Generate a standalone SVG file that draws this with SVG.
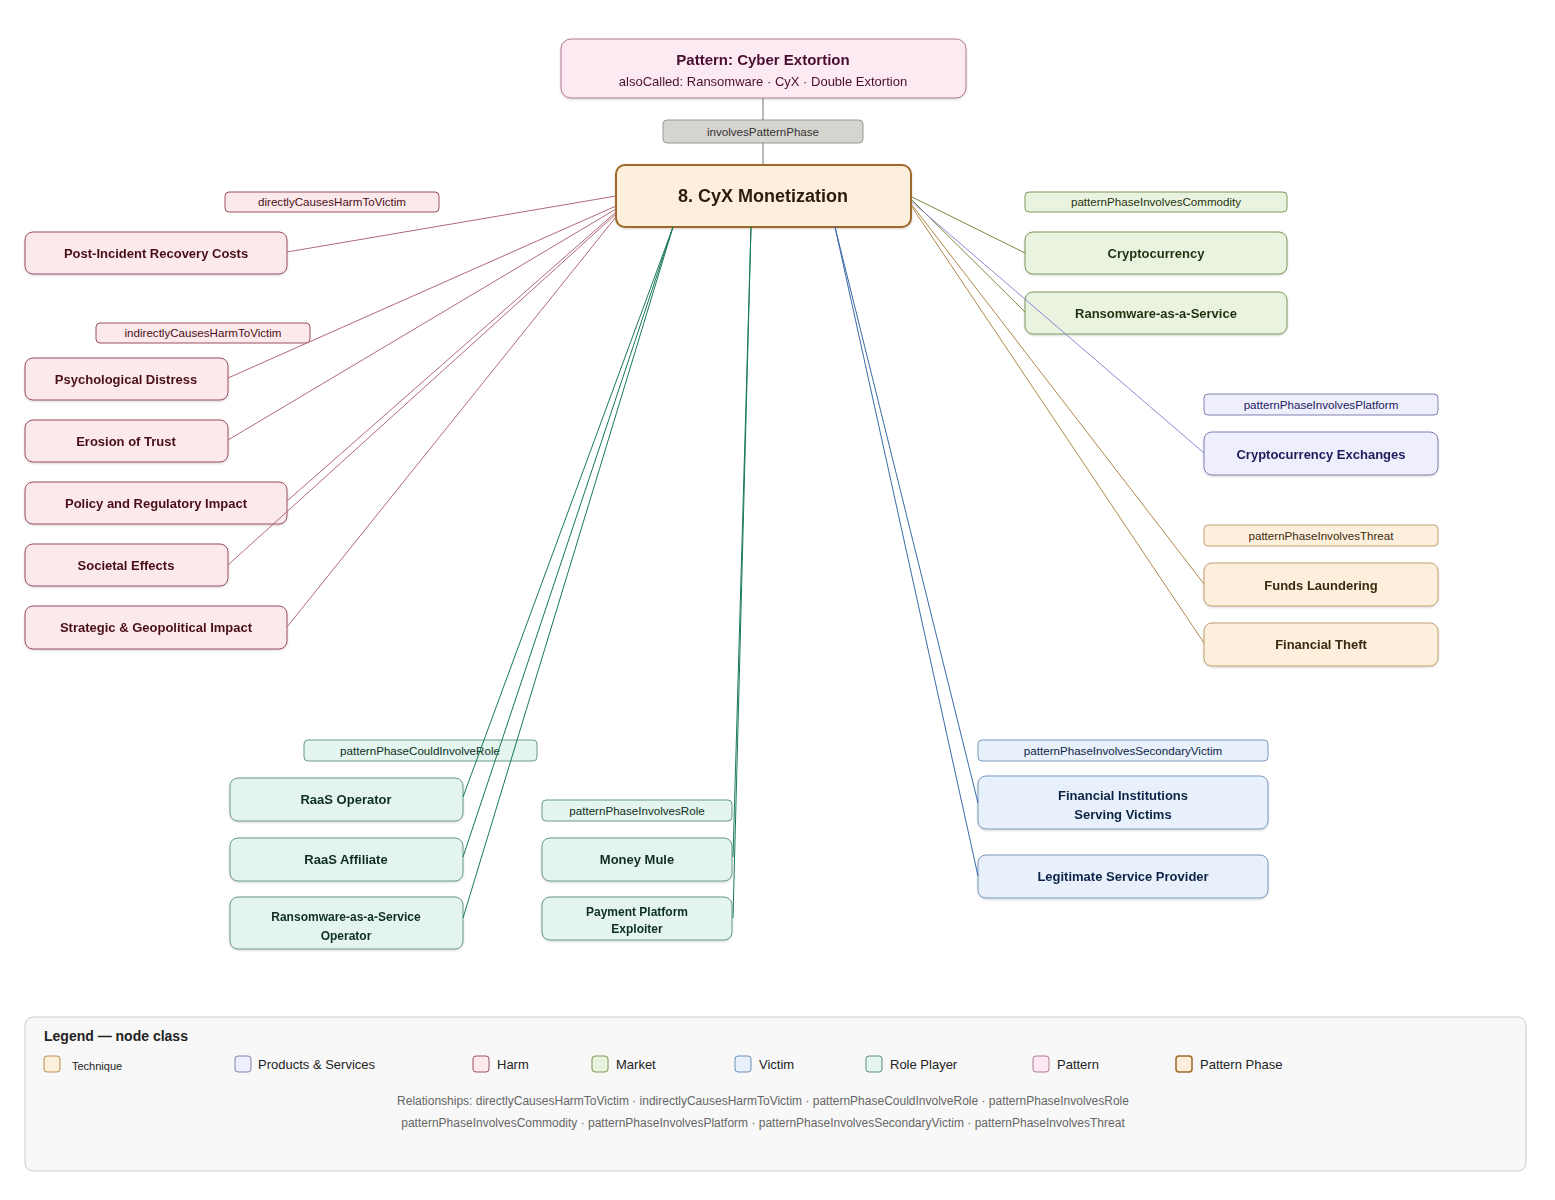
<svg xmlns="http://www.w3.org/2000/svg" width="1555" height="1200" viewBox="0 0 1555 1200">
<defs>
<filter id="sh" x="-5%" y="-10%" width="110%" height="130%"><feDropShadow dx="0" dy="1" stdDeviation="1" flood-color="#000" flood-opacity="0.18"/></filter>
<style>
text{font-family:"Liberation Sans",Arial,sans-serif;text-anchor:middle}
.n{filter:url(#sh)}
.t{font-size:13px;font-weight:bold}
.l{font-size:11.6px}
.harm rect{fill:#fce9eb;stroke:#9a5060}.harm text{fill:#4a1018}
.mkt rect{fill:#eaf3e0;stroke:#7a9a5a}.mkt text{fill:#1f3310}
.prod rect{fill:#eeeefc;stroke:#8080b0}.prod text{fill:#1c1c5c}
.thr rect{fill:#fcefdc;stroke:#c0a070}.thr text{fill:#3d2a0e}
.role rect{fill:#e3f5ee;stroke:#6a9a86}.role text{fill:#0e2e22}
.vic rect{fill:#e7f0fb;stroke:#7a9abb}.vic text{fill:#0e2346}
.pat rect{fill:#fce9f1;stroke:#b07a92}.pat text{fill:#4a1030}
.lbl rect{stroke-width:1}
.c line{fill:none;stroke-width:1}
.ch{stroke:#b06a78}.cm{stroke:#7a8a40}.cp{stroke:#8a8ad0}.ct{stroke:#b08848}.cr{stroke:#1a7a55}.cv{stroke:#3a6aaa}
.lg text{text-anchor:start;font-size:13px;fill:#222}
</style>
</defs>
<rect width="1555" height="1200" fill="#ffffff"/>

<g id="pattern" class="pat n"><rect x="561" y="39" width="405" height="59" rx="10"/><text x="763" y="65" style="font-size:15px;font-weight:bold">Pattern: Cyber Extortion</text><text x="763" y="86" style="font-size:13px">alsoCalled: Ransomware · CyX · Double Extortion</text></g>
<g id="lbl-involvesPatternPhase"><rect x="663" y="120" width="200" height="23" rx="4" fill="#d6d4cf" stroke="#999"/><text x="763" y="136" class="l" fill="#333">involvesPatternPhase</text></g>
<g id="phase" class="n"><rect x="616" y="165" width="295" height="62" rx="9" fill="#fcefdc" stroke="#a0682a" stroke-width="2"/><text x="763" y="202" style="font-size:18px;font-weight:bold" fill="#2a1a08">8. CyX Monetization</text></g>

<g id="lbl-direct" class="harm lbl"><rect x="225" y="192" width="214" height="20" rx="4"/><text x="332" y="206" class="l">directlyCausesHarmToVictim</text></g>
<g id="n-recovery" class="harm n"><rect x="25" y="232" width="262" height="42" rx="8"/><text x="156" y="258" class="t">Post-Incident Recovery Costs</text></g>
<g id="lbl-indirect" class="harm lbl"><rect x="96" y="323" width="214" height="20" rx="4"/><text x="203" y="337" class="l">indirectlyCausesHarmToVictim</text></g>
<g id="n-psych" class="harm n"><rect x="25" y="358" width="203" height="42" rx="8"/><text x="126" y="384" class="t">Psychological Distress</text></g>
<g id="n-trust" class="harm n"><rect x="25" y="420" width="203" height="42" rx="8"/><text x="126" y="446" class="t">Erosion of Trust</text></g>
<g id="n-policy" class="harm n"><rect x="25" y="482" width="262" height="42" rx="8"/><text x="156" y="508" class="t">Policy and Regulatory Impact</text></g>
<g id="n-societal" class="harm n"><rect x="25" y="544" width="203" height="42" rx="8"/><text x="126" y="570" class="t">Societal Effects</text></g>
<g id="n-strategic" class="harm n"><rect x="25" y="606" width="262" height="43" rx="8"/><text x="156" y="632" class="t">Strategic &amp; Geopolitical Impact</text></g>

<g id="lbl-commodity" class="mkt lbl"><rect x="1025" y="192" width="262" height="20" rx="4"/><text x="1156" y="206" class="l">patternPhaseInvolvesCommodity</text></g>
<g id="n-crypto" class="mkt n"><rect x="1025" y="232" width="262" height="42" rx="8"/><text x="1156" y="258" class="t">Cryptocurrency</text></g>
<g id="n-raas-m" class="mkt n"><rect x="1025" y="292" width="262" height="42" rx="8"/><text x="1156" y="318" class="t">Ransomware-as-a-Service</text></g>

<g id="lbl-platform" class="prod lbl"><rect x="1204" y="394" width="234" height="21" rx="4"/><text x="1321" y="409" class="l">patternPhaseInvolvesPlatform</text></g>
<g id="n-exchanges" class="prod n"><rect x="1204" y="432" width="234" height="43" rx="8"/><text x="1321" y="459" class="t">Cryptocurrency Exchanges</text></g>

<g id="lbl-threat" class="thr lbl"><rect x="1204" y="525" width="234" height="21" rx="4"/><text x="1321" y="540" class="l">patternPhaseInvolvesThreat</text></g>
<g id="n-laundering" class="thr n"><rect x="1204" y="563" width="234" height="43" rx="8"/><text x="1321" y="590" class="t">Funds Laundering</text></g>
<g id="n-theft" class="thr n"><rect x="1204" y="623" width="234" height="43" rx="8"/><text x="1321" y="649" class="t">Financial Theft</text></g>

<g id="lbl-couldrole" class="role lbl"><rect x="304" y="740" width="233" height="21" rx="4"/><text x="420" y="755" class="l">patternPhaseCouldInvolveRole</text></g>
<g id="n-raasop" class="role n"><rect x="230" y="778" width="233" height="43" rx="8"/><text x="346" y="804" class="t">RaaS Operator</text></g>
<g id="n-raasaff" class="role n"><rect x="230" y="838" width="233" height="43" rx="8"/><text x="346" y="864" class="t">RaaS Affiliate</text></g>
<g id="n-raasop2" class="role n"><rect x="230" y="897" width="233" height="52" rx="8"/><text x="346" y="921" style="font-size:12px;font-weight:bold">Ransomware-as-a-Service</text><text x="346" y="940" style="font-size:12px;font-weight:bold">Operator</text></g>

<g id="lbl-role" class="role lbl"><rect x="542" y="800" width="190" height="21" rx="4"/><text x="637" y="815" class="l">patternPhaseInvolvesRole</text></g>
<g id="n-mule" class="role n"><rect x="542" y="838" width="190" height="43" rx="8"/><text x="637" y="864" class="t">Money Mule</text></g>
<g id="n-exploiter" class="role n"><rect x="542" y="897" width="190" height="43" rx="8"/><text x="637" y="916" style="font-size:12px;font-weight:bold">Payment Platform</text><text x="637" y="933" style="font-size:12px;font-weight:bold">Exploiter</text></g>

<g id="lbl-secvictim" class="vic lbl"><rect x="978" y="740" width="290" height="21" rx="4"/><text x="1123" y="755" class="l">patternPhaseInvolvesSecondaryVictim</text></g>
<g id="n-fininst" class="vic n"><rect x="978" y="776" width="290" height="53" rx="8"/><text x="1123" y="800" class="t">Financial Institutions</text><text x="1123" y="819" class="t">Serving Victims</text></g>
<g id="n-legit" class="vic n"><rect x="978" y="855" width="290" height="43" rx="8"/><text x="1123" y="881" class="t">Legitimate Service Provider</text></g>

<g id="connectors" class="c">
<line x1="763" y1="98" x2="763" y2="120" stroke="#777"/>
<line x1="763" y1="143" x2="763" y2="165" stroke="#777"/>
<line class="ch" x1="616" y1="196" x2="287" y2="252"/>
<line class="ch" x1="616" y1="206" x2="228" y2="378"/>
<line class="ch" x1="616" y1="209" x2="228" y2="440"/>
<line class="ch" x1="616" y1="212" x2="287" y2="501"/>
<line class="ch" x1="616" y1="214" x2="228" y2="565"/>
<line class="ch" x1="616" y1="217" x2="287" y2="627"/>
<line class="cr" x1="673" y1="227" x2="463" y2="797"/>
<line class="cr" x1="673" y1="227" x2="463" y2="857"/>
<line class="cr" x1="673" y1="227" x2="463" y2="918"/>
<line class="cr" x1="751" y1="227" x2="733" y2="857"/>
<line class="cr" x1="751" y1="227" x2="733" y2="918"/>
<line class="cv" x1="835" y1="227" x2="978" y2="803"/>
<line class="cv" x1="835" y1="227" x2="978" y2="876"/>
<line class="cm" x1="912" y1="197" x2="1025" y2="253"/>
<line class="cm" x1="912" y1="200" x2="1025" y2="312"/>
<line class="cp" x1="912" y1="202" x2="1204" y2="453"/>
<line class="ct" x1="912" y1="205" x2="1204" y2="584"/>
<line class="ct" x1="912" y1="207" x2="1204" y2="643"/>
</g>

<g id="legend" class="lg">
<rect x="25" y="1017" width="1501" height="154" rx="8" fill="#f8f8f8" stroke="#cccccc"/>
<text x="44" y="1041" style="font-size:14px;font-weight:bold">Legend — node class</text>
<rect x="44" y="1056" width="16" height="16" rx="3" fill="#fcefdc" stroke="#c09050"/><text x="72" y="1070" style="font-size:11px">Technique</text>
<rect x="235" y="1056" width="16" height="16" rx="3" fill="#eeeefc" stroke="#8080b0"/><text x="258" y="1069">Products &amp; Services</text>
<rect x="473" y="1056" width="16" height="16" rx="3" fill="#fce9eb" stroke="#9a5060"/><text x="497" y="1069">Harm</text>
<rect x="592" y="1056" width="16" height="16" rx="3" fill="#eaf3e0" stroke="#7a9a5a"/><text x="616" y="1069">Market</text>
<rect x="735" y="1056" width="16" height="16" rx="3" fill="#e7f0fb" stroke="#6a8fb5"/><text x="759" y="1069">Victim</text>
<rect x="866" y="1056" width="16" height="16" rx="3" fill="#e3f5ee" stroke="#5a8f7a"/><text x="890" y="1069">Role Player</text>
<rect x="1033" y="1056" width="16" height="16" rx="3" fill="#fce9f1" stroke="#b07a92"/><text x="1057" y="1069">Pattern</text>
<rect x="1176" y="1056" width="16" height="16" rx="3" fill="#fcefdc" stroke="#a0682a" stroke-width="1.5"/><text x="1200" y="1069">Pattern Phase</text>
<text x="763" y="1105" style="text-anchor:middle;font-size:12px;fill:#666">Relationships: directlyCausesHarmToVictim · indirectlyCausesHarmToVictim · patternPhaseCouldInvolveRole · patternPhaseInvolvesRole</text>
<text x="763" y="1127" style="text-anchor:middle;font-size:12px;fill:#666">patternPhaseInvolvesCommodity · patternPhaseInvolvesPlatform · patternPhaseInvolvesSecondaryVictim · patternPhaseInvolvesThreat</text>
</g>
</svg>
